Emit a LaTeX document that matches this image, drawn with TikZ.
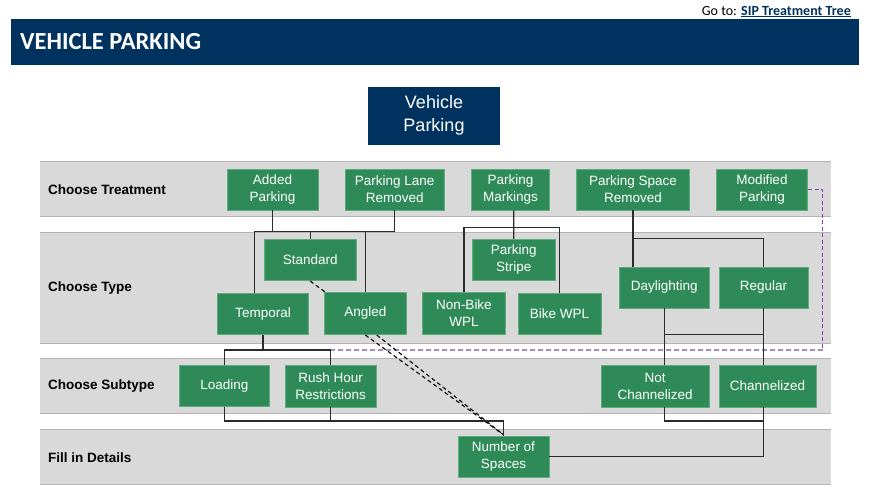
\documentclass[tikz,border=0pt]{standalone}
\usepackage{fontspec}
\setmainfont{Liberation Sans}
\newfontfamily\calibri{Carlito}
\usetikzlibrary{calc}
\definecolor{navy}{HTML}{00325F}
\definecolor{gnode}{HTML}{2E8B57}
\definecolor{gedge}{HTML}{5FAA7E}
\definecolor{band}{HTML}{D9D9D9}
\definecolor{bandline}{HTML}{B4B4B4}
\definecolor{conncol}{HTML}{2B2B2B}
\definecolor{purp}{HTML}{7F3FBF}
\definecolor{purpgray}{HTML}{A290B8}
\begin{document}
\begin{tikzpicture}[x=1pt,y=-1pt,
  gbox/.style={fill=gnode,draw=gedge,line width=0.6pt,text=white,align=center,inner sep=0pt,
    font=\fontsize{13.5}{17}\selectfont},
  bandlabel/.style={anchor=west,inner sep=0pt,font=\bfseries\fontsize{13.5}{16}\selectfont},
  conn/.style={draw=conncol,line width=1.2pt},
  dconn/.style={draw=black,line width=1.1pt,dash pattern=on 4pt off 3pt},
]
\useasboundingbox (0,0) rectangle (870,501);
\fill[white] (0,0) rectangle (870,501);
% header
\fill[navy] (11,19) rectangle (859,65);
\node[anchor=west,inner sep=0pt,text=white,font=\calibri\bfseries\fontsize{24.5}{26}\selectfont] (title) at (20,42) {VEHICLE PARKING};
\node[anchor=base east,inner sep=0pt,font=\calibri\fontsize{14}{16}\selectfont] (goto) at (851,15)
  {Go to: \textcolor{navy}{\bfseries\underline{SIP Treatment Tree}}};
% bands
\foreach \ya/\yb in {161.5/216.5, 232.5/343.5, 358.5/413.5, 429/484.5}{
  \fill[band] (40,\ya) rectangle (830.5,\yb);
  \draw[bandline,line width=0.8pt] (40,\ya) -- (830.5,\ya);
  \draw[bandline,line width=0.8pt] (40,\yb) -- (830.5,\yb);
}
\node[bandlabel] (l1) at (48,189.5) {Choose Treatment};
\node[bandlabel] (l2) at (48,288.5) {Choose Type};
\node[bandlabel] (l3) at (48,386.5) {Choose Subtype};
\node[bandlabel] (l4) at (48,457.5) {Fill in Details};
% top node
\node[fill=navy,text=white,align=center,inner sep=0pt,minimum width=132pt,minimum height=58pt,
  font=\fontsize{18}{23}\selectfont] (vp) at (434,115.5) {Vehicle\\Parking};
% treatment
\node[gbox,minimum width=91pt,minimum height=41pt] (added) at (272.5,189.5) {Added\\Parking};
\node[gbox,minimum width=99pt,minimum height=41pt] (lane) at (394.7,189.5) {Parking Lane\\Removed};
\node[gbox,minimum width=77.6pt,minimum height=41pt] (markings) at (510.5,189.5) {Parking\\Markings};
\node[gbox,minimum width=112.6pt,minimum height=41pt] (spacerem) at (633,189.5) {Parking Space\\Removed};
\node[gbox,minimum width=91.4pt,minimum height=41pt] (modified) at (762,189.5) {Modified\\Parking};
% type
\node[gbox,minimum width=91.7pt,minimum height=41.7pt] (standard) at (310.2,259.9) {Standard};
\node[gbox,minimum width=91.4pt,minimum height=41.4pt] (temporal) at (263,314) {Temporal};
\node[gbox,minimum width=82.7pt,minimum height=42.4pt] (angled) at (365.3,313.5) {Angled};
\node[gbox,minimum width=83pt,minimum height=41.7pt] (stripe) at (513.8,259.9) {Parking\\Stripe};
\node[gbox,minimum width=82.6pt,minimum height=42pt] (nonbike) at (464,313.3) {Non-Bike\\WPL};
\node[gbox,minimum width=83pt,minimum height=41.4pt] (bike) at (559.4,314) {Bike WPL};
\node[gbox,minimum width=90.3pt,minimum height=41pt] (daylight) at (664.2,287.5) {Daylighting};
\node[gbox,minimum width=89.3pt,minimum height=41pt] (regular) at (763.5,287.5) {Regular};
% subtype
\node[gbox,minimum width=90.7pt,minimum height=41.4pt] (loading) at (224.3,386) {Loading};
\node[gbox,minimum width=91.3pt,minimum height=42pt] (rush) at (330.7,386) {Rush Hour\\Restrictions};
\node[gbox,minimum width=108.3pt,minimum height=42pt] (notch) at (655.2,386) {Not\\Channelized};
\node[gbox,minimum width=97pt,minimum height=42pt] (chan) at (767.5,386) {Channelized};
% details
\node[gbox,minimum width=91pt,minimum height=41pt] (nspaces) at (503.5,456.5) {Number of\\Spaces};
% bus coordinates
\coordinate (busA) at (0,231.3);
\coordinate (busB) at (0,350);
\coordinate (busC) at (0,421);
\coordinate (busD) at (0,227.3);
\coordinate (busE) at (0,238.3);
\coordinate (busF) at (0,334.3);
\coordinate (busG) at (0,421);
\coordinate (pturn) at (822.7,350);
% purple dashed
\draw[purp,line width=1.1pt,dash pattern=on 4pt off 2.5pt] (modified.east) -| (pturn);
\draw[purpgray,line width=1.1pt,dash pattern=on 5pt off 3pt] (pturn) -- (busB -| rush.north);
% connectors
\draw[conn] (added.south) -- (added.south |- busA);
\draw[conn] (lane.south) |- ([xshift=-8.7pt]temporal.north |- busA) -- ([xshift=-8.7pt]temporal.north);
\draw[conn] (standard.north) -- (standard.north |- busA);
\draw[conn] (angled.north) -- (angled.north |- busA);
\draw[dconn] (standard.south) -- ([xshift=-40.3pt]angled.north);
\draw[dconn] (angled.south) -- ([yshift=1pt]nspaces.north);
\draw[dconn] ([xshift=11.4pt]angled.south) -- ([yshift=1pt]nspaces.north);
\draw[conn] (temporal.south) -- (temporal.south |- busB);
\draw[conn] (loading.north) |- (busB -| rush.north) -- (rush.north);
\draw[conn] (loading.south) |- (busC -| nspaces.north) -- (nspaces.north);
\draw[conn] (rush.south) -- (rush.south |- busC);
\draw[conn] ([xshift=3.2pt]markings.south) -- (stripe.north);
\draw[conn] (nonbike.north) |- (busD -| bike.north) -- (bike.north);
\draw[conn] (spacerem.south) -- (spacerem.south |- daylight.north);
\draw[conn] (spacerem.south |- busE) -| (regular.north);
\draw[conn] (daylight.south) -- ([xshift=9pt]notch.north);
\draw[conn] (daylight.south |- busF) -- (regular.south |- busF);
\draw[conn] (regular.south) -- (regular.south |- chan.north);
\draw[conn] ([xshift=9pt]notch.south) |- (busG -| regular.south);
\draw[conn] (regular.south |- chan.south) |- (nspaces.east);
\end{tikzpicture}
\end{document}
